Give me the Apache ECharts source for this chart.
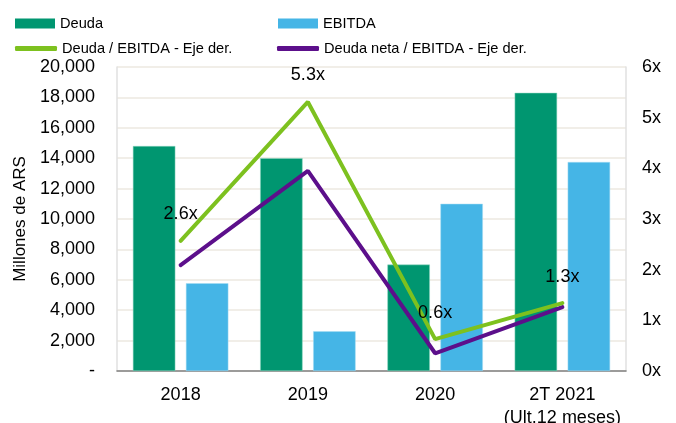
<!DOCTYPE html>
<html>
<head>
<meta charset="utf-8">
<script src="https://cdn.jsdelivr.net/npm/echarts@6/dist/echarts.min.js"></script>
<style>
  html, body { margin: 0; padding: 0; background: #fff; }
  #chart { width: 676px; height: 423px; }
</style>
</head>
<body>
<div id="chart"></div>
<script>
// datos
var categorias = ['2018', '2019', '2020', '2T 2021\n(Ult.12 meses)']
var deuda = [14800, 14000, 7000, 18300]
var ebitda = [5770, 2610, 11000, 13750]
var deudaEbitda = [2.57, 5.31, 0.63, 1.34]
var deudaNetaEbitda = [2.09, 3.95, 0.35, 1.26]

var fuente = 'Arial, "Liberation Sans", sans-serif'
var verde = '#009670'
var celeste = '#45b5e6'
var verdeLinea = '#7dc11f'
var violeta = '#5c0f8b'

var chart = echarts.init(document.getElementById('chart'), null, { renderer: 'canvas' })

function leyenda(nombre, left, top, esLinea) {
  return {
    data: [nombre],
    left: left,
    top: top,
    padding: 0,
    itemWidth: esLinea ? 42 : 40,
    itemHeight: esLinea ? 5 : 10,
    icon: esLinea ? 'roundRect' : 'rect',
    itemGap: 0,
    selectedMode: false,
    itemStyle: { borderWidth: 0 },
    textStyle: { fontFamily: fuente, fontSize: 14.6, color: '#000', padding: [0, 0, 0, 0] }
  }
}

var option = {
  backgroundColor: '#fff',
  animation: false,
  legend: [
    leyenda('Deuda', 15, 16, false),
    leyenda('EBITDA', 278, 16, false),
    leyenda('Deuda / EBITDA - Eje der.', 15, 41, true),
    leyenda('Deuda neta / EBITDA - Eje der.', 277, 41, true)
  ],
  grid: { left: 117, right: 50, top: 67, bottom: 52, outerBoundsMode: 'none', containLabel: false },
  xAxis: {
    type: 'category',
    data: categorias,
    axisLine: { lineStyle: { color: '#808080', width: 1.5 } },
    axisTick: { show: false },
    axisLabel: { interval: 0, fontFamily: fuente, fontSize: 18, color: '#000', margin: 13, lineHeight: 23 }
  },
  yAxis: [
    {
      type: 'value',
      min: 0,
      max: 20000,
      interval: 2000,
      name: 'Millones de ARS',
      nameLocation: 'middle',
      nameGap: 87,
      nameRotate: 90,
      nameTextStyle: { fontFamily: fuente, fontSize: 17, color: '#000' },
      axisLine: { show: true, lineStyle: { color: '#e0e0e0', width: 1.5 } },
      axisTick: { show: false },
      splitLine: { lineStyle: { color: '#ece9e0', width: 1.5 } },
      axisLabel: {
        fontFamily: fuente, fontSize: 18, color: '#000', margin: 22,
        formatter: function (v) { return v === 0 ? '-' : v.toLocaleString('en-US') }
      }
    },
    {
      type: 'value',
      min: 0,
      max: 6,
      interval: 1,
      position: 'right',
      axisLine: { show: true, lineStyle: { color: '#e0e0e0', width: 1.5 } },
      axisTick: { show: false },
      splitLine: { show: false },
      axisLabel: {
        fontFamily: fuente, fontSize: 18, color: '#000', margin: 16,
        formatter: function (v) { return v + 'x' }
      }
    }
  ],
  series: [
    {
      name: 'Deuda',
      type: 'bar',
      data: deuda,
      barGap: '25%',
      barCategoryGap: '25%',
      itemStyle: { color: verde, borderColor: '#8fd6c0', borderWidth: 0.5 }
    },
    {
      name: 'EBITDA',
      type: 'bar',
      data: ebitda,
      itemStyle: { color: celeste, borderColor: '#a6dcf3', borderWidth: 0.5 }
    },
    {
      name: 'Deuda / EBITDA - Eje der.',
      type: 'line',
      yAxisIndex: 1,
      data: deudaEbitda,
      symbol: 'circle',
      symbolSize: 1,
      showSymbol: true,
      lineStyle: { color: verdeLinea, width: 4, cap: 'round' },
      itemStyle: { color: verdeLinea },
      label: {
        show: true,
        position: 'top',
        distance: 17,
        fontFamily: fuente,
        fontSize: 18,
        color: '#000',
        formatter: function (p) { return p.value.toFixed(1) + 'x' }
      },
      z: 4
    },
    {
      name: 'Deuda neta / EBITDA - Eje der.',
      type: 'line',
      yAxisIndex: 1,
      data: deudaNetaEbitda,
      symbol: 'none',
      lineStyle: { color: violeta, width: 4, cap: 'round' },
      itemStyle: { color: violeta },
      z: 3
    }
  ]
}

chart.setOption(option)
</script>
</body>
</html>
